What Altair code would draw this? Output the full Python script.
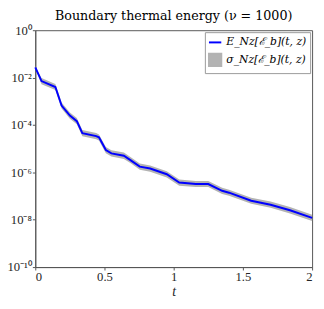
import altair as alt
import pandas as pd

t = [0.0, 0.045, 0.145, 0.19, 0.25, 0.30, 0.34, 0.44, 0.46, 0.51, 0.55, 0.64, 0.69,
     0.755, 0.83, 0.95, 1.04, 1.16, 1.25, 1.35, 1.40, 1.56, 1.70, 1.84, 2.0]
E = [2.7e-2, 7.1e-3, 4.0e-3, 6.6e-4, 2.5e-4, 1.45e-4, 4.5e-5, 3.4e-5, 3.0e-5, 8.7e-6,
     6.3e-6, 5.0e-6, 3.2e-6, 1.74e-6, 1.45e-6, 8.3e-7, 3.7e-7, 3.2e-7, 3.2e-7, 1.66e-7,
     1.38e-7, 6.3e-8, 4.3e-8, 2.5e-8, 1.2e-8]
upper = [3.0e-2, 9.5e-3, 5.4e-3, 8.9e-4, 3.4e-4, 1.95e-4, 6.1e-5, 4.6e-5, 4.0e-5, 1.17e-5,
         8.5e-6, 6.8e-6, 4.3e-6, 2.35e-6, 1.96e-6, 1.12e-6, 5.0e-7, 4.3e-7, 4.3e-7, 2.24e-7,
         1.86e-7, 8.5e-8, 5.8e-8, 3.4e-8, 1.6e-8]
lower = [2.4e-2, 5.3e-3, 3.0e-3, 4.9e-4, 1.85e-4, 1.07e-4, 3.3e-5, 2.5e-5, 2.2e-5, 6.4e-6,
         4.7e-6, 3.7e-6, 2.4e-6, 1.29e-6, 1.07e-6, 6.1e-7, 2.7e-7, 2.4e-7, 2.4e-7, 1.23e-7,
         1.02e-7, 4.7e-8, 3.2e-8, 1.85e-8, 8.9e-9]

series = ["E_Nz[ℰ_b](t, z)", "σ_Nz[ℰ_b](t, z)"]
x_ticks = [0, 0.5, 1, 1.5, 2]
y_ticks = [1, 1e-2, 1e-4, 1e-6, 1e-8, 1e-10]

df = pd.DataFrame({"t": t, "E": E, "hi": upper, "lo": lower})
df["sE"] = series[0]

AXFONT = "Liberation Serif"
TFONT = "DejaVu Serif"

color_scale = alt.Scale(domain=series, range=["#0000ff", "#b3b3b3"])
shape_scale = alt.Scale(domain=series, range=["stroke", "square"])

xenc = alt.X("t:Q", scale=alt.Scale(domain=[0, 2], nice=False),
             axis=alt.Axis(values=x_ticks, title="t", titleFontStyle="italic",
                           titlePadding=1, labelPadding=1,
                           labelExpr="datum.value == 0 ? '0' : format(datum.value, '')"))
yscale = alt.Scale(type="log", domain=[1e-10, 1], nice=False)
yaxis = alt.Axis(values=y_ticks, title=None, labelPadding=1,
                 labelExpr="datum.value >= 0.5 ? '10⁰' : datum.value >= 5e-3 ? '10⁻²' : "
                           "datum.value >= 5e-5 ? '10⁻⁴' : datum.value >= 5e-7 ? '10⁻⁶' : "
                           "datum.value >= 5e-9 ? '10⁻⁸' : '10⁻¹⁰'")

band = alt.Chart(df).mark_area(color="#b3b3b3", opacity=1).encode(
    x=xenc,
    y=alt.Y("lo:Q", scale=yscale, axis=yaxis),
    y2="hi:Q",
)

line = alt.Chart(df).mark_line(color="#0000ff", strokeWidth=2).encode(
    x="t:Q",
    y=alt.Y("E:Q", scale=yscale),
)

leg = dict(title=None, orient="top-right", labelFont=TFONT,
           labelFontSize=11, labelFontStyle="italic",
           fillColor="white", strokeColor="#999",
           padding=3, offset=2, rowPadding=2,
           symbolSize=160, symbolStrokeWidth=2)

legend_pts = alt.Chart(df).mark_point(filled=True, size=160, strokeWidth=2, opacity=1).encode(
    x="t:Q",
    y=alt.Y("E:Q", scale=yscale),
    fill=alt.Fill("sE:N", scale=color_scale, legend=alt.Legend(**leg)),
    stroke=alt.Stroke("sE:N", scale=color_scale, legend=alt.Legend(**leg)),
    shape=alt.Shape("sE:N", scale=shape_scale, legend=alt.Legend(**leg)),
).transform_filter("false")

chart = alt.layer(band, line, legend_pts).properties(
    width=284, height=243,
    autosize=alt.AutoSizeParams(type="none"),
    padding={"left": 28, "top": 19, "right": 4, "bottom": 31},
    title=alt.Title("Boundary thermal energy (ν = 1000)", font=TFONT, fontSize=13,
                    fontWeight="normal", color="black", offset=2),
).configure_axis(
    labelFont=AXFONT, labelFontSize=13, titleFont=AXFONT, titleFontSize=14,
    titleFontWeight="normal", labelColor="#262626", titleColor="#262626",
    domainColor="#555", tickColor="#555", grid=False, tickSize=3,
).configure_view(stroke="#555")

chart.save("out.html", embed_options={"renderer": "svg", "actions": False})
